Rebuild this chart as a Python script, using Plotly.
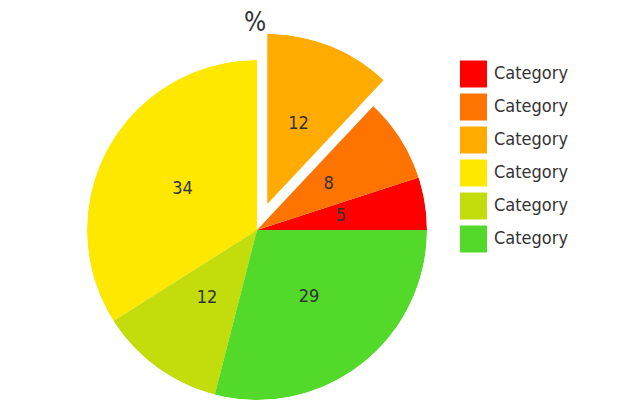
import math
import plotly.graph_objects as go

# ---- data ----
categories = ["Category", "Category", "Category", "Category", "Category", "Category"]
values = [5, 8, 12, 34, 12, 29]
colors = ["#FF0000", "#FF7400", "#FFAB00", "#FFE800", "#C3DC0C", "#52D92A"]
pulls = [0, 0, 0.165, 0, 0, 0]
title_text = "%"

# ---- layout constants (pixels, page coordinates) ----
W, H = 640, 414
OFF = 8  # default body margin of the html page
CX, CY, R = 257 - OFF, 230 - OFF, 170
LABEL_R = 0.5  # slice labels at half the radius
FONT = "DejaVu Sans Condensed, DejaVu Sans, sans-serif"
TXT = "#333333"

total = sum(values)
widths, mids = [], []
cum = 0
for v in values:
    widths.append(360 * v / total)
    mids.append(360 * (cum + v / 2) / total)
    cum += v


def domain_for(cx, cy):
    return dict(x=[(cx - R) / W, (cx + R) / W],
                y=[1 - (cy + R) / H, 1 - (cy - R) / H])


def polar_layout(dom):
    return dict(
        domain=dom, bgcolor="rgba(0,0,0,0)", hole=0,
        radialaxis=dict(range=[0, 1], visible=False, showgrid=False),
        angularaxis=dict(rotation=0, direction="counterclockwise", visible=False,
                         showgrid=False, thetaunit="degrees"),
    )


def add_wedges(idx, subplot):
    fig.add_trace(go.Barpolar(
        r=[1] * len(idx), base=[0] * len(idx),
        theta=[mids[i] for i in idx], width=[widths[i] for i in idx],
        marker=dict(color=[colors[i] for i in idx], line=dict(width=0)),
        hoverinfo="skip", showlegend=False, subplot=subplot,
    ))
    fig.add_trace(go.Scatterpolar(
        r=[LABEL_R] * len(idx), theta=[mids[i] for i in idx],
        mode="text", text=[str(values[i]) for i in idx], textposition="middle center",
        textfont=dict(family=FONT, size=18, color=TXT),
        hoverinfo="skip", showlegend=False, subplot=subplot,
    ))


fig = go.Figure()
polars = {}

# main pie (slices that are not pulled out)
main_idx = [i for i, p in enumerate(pulls) if not p]
add_wedges(main_idx, "polar")
polars["polar"] = polar_layout(domain_for(CX, CY))

# pulled slices: own subplot, shifted along the slice's mid angle
k = 2
for i, p in enumerate(pulls):
    if not p:
        continue
    a = math.radians(mids[i])
    dx, dy = p * R * math.cos(a), -p * R * math.sin(a)
    name = f"polar{k}"
    add_wedges([i], name)
    polars[name] = polar_layout(domain_for(CX + dx, CY + dy))
    k += 1

# legend built as a marker column + a text column
LX, LY0, LDY = 473.5 - OFF, 74 - OFF, 33
fig.add_trace(go.Scatter(
    x=[0] * len(categories), y=list(range(len(categories))),
    mode="markers",
    marker=dict(symbol="square", size=27, color=colors, line=dict(width=0)),
    hoverinfo="skip", showlegend=False, cliponaxis=False,
))
fig.add_trace(go.Scatter(
    x=[20.5] * len(categories), y=list(range(len(categories))),
    mode="text",
    text=categories, textposition="middle right",
    textfont=dict(family=FONT, size=18, color=TXT),
    hoverinfo="skip", showlegend=False, cliponaxis=False,
))

fig.update_layout(
    width=W, height=H,
    margin=dict(l=0, r=0, t=0, b=0),
    paper_bgcolor="white", plot_bgcolor="white",
    showlegend=False,
    title=dict(text=title_text, x=(255 - OFF) / W, y=1 - (22 - OFF) / H,
               xanchor="center", yanchor="middle",
               font=dict(family=FONT, size=26, color=TXT)),
    xaxis=dict(range=[-LX, W - LX], visible=False, fixedrange=True),
    yaxis=dict(range=[(H - LY0) / LDY, -LY0 / LDY], visible=False, fixedrange=True),
    **polars,
)

fig.write_html("out.html")
